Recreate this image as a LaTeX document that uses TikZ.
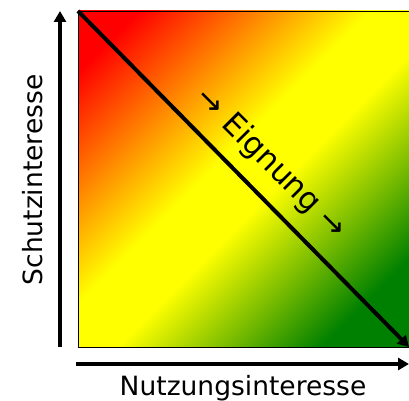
\documentclass[tikz,border=0pt]{standalone}
\usepackage{fontspec}
\setmainfont{DejaVu Sans}
\usetikzlibrary{arrows.meta}
\definecolor{G}{RGB}{0,128,0}
\definecolor{R}{RGB}{255,0,0}
\definecolor{Y}{RGB}{255,255,0}
\pgfdeclareverticalshading{eignungshade}{100bp}{color(0bp)=(G); color(25bp)=(G); color(32bp)=(G); color(47bp)=(Y); color(53bp)=(Y); color(70bp)=(R); color(75bp)=(R); color(100bp)=(R)}
\tikzset{
  axisarrow/.style={line width=4pt,-{Triangle[length=11pt,width=12pt]}},
  axislabel/.style={font=\fontsize{26.5}{30}\selectfont, inner sep=0pt, anchor=base},
  difflabel/.style={font=\fontsize{31}{36}\selectfont, inner sep=0pt, anchor=base, rotate=-45}
}
\begin{document}
\begin{tikzpicture}[x=1pt,y=1pt]
\useasboundingbox (0,0) rectangle (409,400);
\coordinate (tl) at (78,389);
\coordinate (br) at (409,53);
\coordinate (yb) at (60,53);
\coordinate (yt) at (60,389);
\coordinate (xl) at (76,36);
\coordinate (xr) at (409,36);
\begin{scope}
  \clip (tl) rectangle (br);
  \shade[shading=eignungshade, transform canvas={rotate around={45:(243.5,221)}}] (5,-20) rectangle (482,462);
\end{scope}
\draw[line width=0.8pt] (tl) rectangle (br);
\draw[axisarrow] (tl) -- (br);
\draw[axisarrow] (yb) -- (yt);
\draw[axisarrow] (xl) -- (xr);
\node[axislabel] (nl) at (243,5) {Nutzungsinteresse};
\node[axislabel, rotate=90] (sl) at (42,220) {Schutzinteresse};
\node[difflabel] (el) at (265,230) {→ Eignung →};
\end{tikzpicture}
\end{document}
